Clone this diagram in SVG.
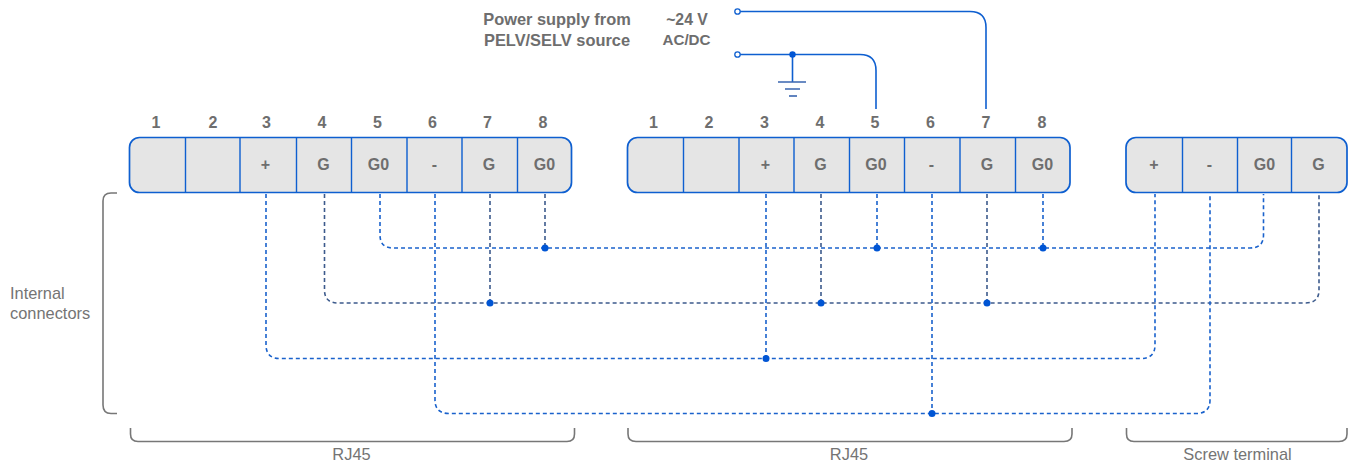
<svg xmlns="http://www.w3.org/2000/svg" width="1352" height="466" viewBox="0 0 1352 466">
<style>
text{font-family:"Liberation Sans",Arial,sans-serif;fill:#6e6e6e}
.b{font-weight:bold;font-size:16px;text-anchor:middle}
.h{font-weight:bold;font-size:16.400px;text-anchor:middle}
.p{font-size:16.400px;text-anchor:middle;fill:#747474}
.s{font-size:16.400px;fill:#747474}
.box{fill:#e5e5e5;stroke:#0e5fd0;stroke-width:1.7}
.div{stroke:#0e5fd0;stroke-width:1.4;fill:none}
.w{fill:none;stroke:#0e5fd0;stroke-width:1.6}
.g{fill:none;stroke:#3a66b0;stroke-width:1.6}
.d{fill:none;stroke:#1a62cc;stroke-width:1.6;stroke-dasharray:4 3}
.k{stroke:#3c5a8c}
.dot{fill:#0055d4}
.br{fill:none;stroke:#777;stroke-width:1.6}
</style>
<g id="connectors">
<path class="w" d="M740 11.500H970Q986 11.500 986 27.500V109"/>
<path class="w" d="M740 54.500H860Q876 54.500 876 70.500V109"/>
<path class="w" d="M792.500 54.500V82"/>
<path class="g" d="M778 82H806M785 89H800"/>
<path class="g" d="M789 96H797" stroke-width="2"/>
<circle cx="737.500" cy="11.500" r="2.700" fill="#fff" stroke="#0e5fd0" stroke-width="1.300"/>
<circle cx="737.500" cy="54.500" r="2.700" fill="#fff" stroke="#0e5fd0" stroke-width="1.300"/>
<circle class="dot" cx="792.500" cy="54.500" r="3.200"/>
<path class="d" d="M380 194V235Q380 248 393 248H1250Q1263.500 248 1263.500 235V194"/>
<path class="d k" d="M545 194V248"/>
<path class="d" d="M877 194V248M1043 194V248"/>
<path class="d k" d="M324.500 194V290Q324.500 303 338 303H1305Q1319 303 1319 290V194"/>
<path class="d k" d="M490 194V303M821 194V303M987 194V303"/>
<path class="d" d="M266 194V345Q266 358.500 280 358.500H1141Q1155 358.500 1155 345V194"/>
<path class="d" d="M766 194V358.500"/>
<path class="d" d="M435 194V400Q435 413.500 449 413.500H1196Q1210 413.500 1210 400V194"/>
<path class="d" d="M932 194V413.500"/>
<circle class="dot" cx="545" cy="248" r="3.500"/><circle class="dot" cx="877" cy="248" r="3.500"/><circle class="dot" cx="1043" cy="248" r="3.500"/>
<circle class="dot" cx="490" cy="303" r="3.500"/><circle class="dot" cx="821" cy="303" r="3.500"/><circle class="dot" cx="987" cy="303" r="3.500"/>
<circle class="dot" cx="766" cy="358.500" r="3.500"/><circle class="dot" cx="932" cy="413.500" r="3.500"/>
</g>
<g id="power-label">
<text class="h" x="557" y="25">Power supply from</text><text class="h" x="557" y="46">PELV/SELV source</text>
<text class="h" x="687" y="25" style="font-size:15.800px">~24 V</text><text class="b" x="686.500" y="45" style="font-size:15.200px">AC/DC</text>
</g>
<g id="connector-1">
<rect class="box" x="129.500" y="137.500" width="442" height="55" rx="10"/>
<path class="div" d="M185.500 137.500V192.500M240 137.500V192.500M296.500 137.500V192.500M351.500 137.500V192.500M407 137.500V192.500M462 137.500V192.500M517.500 137.500V192.500"/>
<text class="b" x="156" y="128">1</text><text class="b" x="213" y="128">2</text><text class="b" x="266.500" y="128">3</text><text class="b" x="322" y="128">4</text><text class="b" x="377.500" y="128">5</text><text class="b" x="432.500" y="128">6</text><text class="b" x="487.500" y="128">7</text><text class="b" x="543" y="128">8</text>
<text class="b" x="265.500" y="170">+</text><text class="b" x="323.500" y="170">G</text><text class="b" x="378.500" y="170">G0</text><text class="b" x="434.500" y="170">-</text><text class="b" x="489" y="170">G</text><text class="b" x="544.500" y="170">G0</text>
</g>
<g id="connector-2">
<rect class="box" x="627.500" y="137.500" width="442.500" height="55" rx="10"/>
<path class="div" d="M683.500 137.500V192.500M739 137.500V192.500M794 137.500V192.500M849.500 137.500V192.500M904.500 137.500V192.500M960 137.500V192.500M1015.500 137.500V192.500"/>
<text class="b" x="653.500" y="128">1</text><text class="b" x="709" y="128">2</text><text class="b" x="764.500" y="128">3</text><text class="b" x="820" y="128">4</text><text class="b" x="875" y="128">5</text><text class="b" x="930.500" y="128">6</text><text class="b" x="986" y="128">7</text><text class="b" x="1042" y="128">8</text>
<text class="b" x="765.500" y="170">+</text><text class="b" x="820.500" y="170">G</text><text class="b" x="876" y="170">G0</text><text class="b" x="931.500" y="170">-</text><text class="b" x="987" y="170">G</text><text class="b" x="1042.500" y="170">G0</text>
</g>
<g id="screw-terminal">
<rect class="box" x="1126" y="137.500" width="221" height="55" rx="10"/>
<path class="div" d="M1182.500 137.500V192.500M1237.500 137.500V192.500M1291.500 137.500V192.500"/>
<text class="b" x="1154" y="170">+</text><text class="b" x="1209.500" y="170">-</text><text class="b" x="1264.500" y="170">G0</text><text class="b" x="1318.500" y="170">G</text>
</g>
<g id="internal-connectors">
<path class="br" d="M117 193H111Q103 193 103 201V405Q103 413.500 111 413.500H117"/>
<text class="s" x="10" y="299">Internal</text><text class="s" x="10" y="319">connectors</text>
</g>
<g id="rj45-1"><path class="br" d="M130.500 428V434Q130.500 441.500 138 441.500H567Q574.500 441.500 574.500 434V428"/><text class="p" x="351.500" y="460">RJ45</text></g>
<g id="rj45-2"><path class="br" d="M628 428V434Q628 441.500 636 441.500H1064Q1072 441.500 1072 434V428"/><text class="p" x="849" y="460">RJ45</text></g>
<g id="screw-label"><path class="br" d="M1126.500 428V434Q1126.500 441.500 1134 441.500H1339Q1347 441.500 1347 434V428"/><text class="p" x="1237.500" y="460">Screw terminal</text></g>
</svg>
